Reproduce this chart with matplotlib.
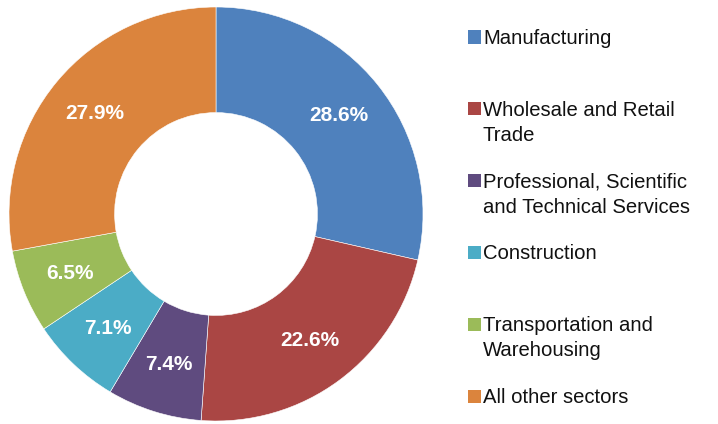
import numpy as np
import matplotlib.pyplot as plt
from matplotlib.patches import Rectangle

plt.rcParams['font.family'] = ['Liberation Sans', 'DejaVu Sans']

sectors = ['Manufacturing', 'Wholesale and Retail\nTrade',
           'Professional, Scientific\nand Technical Services', 'Construction',
           'Transportation and\nWarehousing', 'All other sectors']
shares = [28.6, 22.6, 7.4, 7.1, 6.5, 27.9]
colors = ['#4F81BD', '#AA4644', '#5F4B7F', '#4BACC6', '#9BBB59', '#DB843D']

fig = plt.figure(figsize=(7.18, 4.24), dpi=100)
ax = fig.add_axes([9 / 718, 3 / 424, 414 / 718, 414 / 424])

wedges, _ = ax.pie(shares, colors=colors, startangle=90, counterclock=False,
                   radius=1.0, wedgeprops=dict(width=0.51, edgecolor='white', linewidth=0.4))
ax.set_xlim(-1, 1)
ax.set_ylim(-1, 1)
ax.set_aspect('equal')
ax.axis('off')

for w, v in zip(wedges, shares):
    mid = np.deg2rad((w.theta1 + w.theta2) / 2)
    ax.text(0.76 * np.cos(mid), 0.76 * np.sin(mid), f'{v:.1f}%',
            ha='center', va='center', color='white', fontsize=15, fontweight='bold')

# legend, drawn by hand so the slots are evenly spaced like the original
for i, (name, c) in enumerate(zip(sectors, colors)):
    yc = 37 + 71.8 * i
    fig.patches.append(Rectangle((468 / 718, 1 - (yc + 6.5) / 424), 13 / 718, 13 / 424,
                                 transform=fig.transFigure, facecolor=c, edgecolor='none'))
    fig.text(483 / 718, 1 - (yc - 8) / 424, name, ha='left', va='top',
             fontsize=14.6, linespacing=1.4, color='#111111')

plt.savefig('out.png', dpi=100)
